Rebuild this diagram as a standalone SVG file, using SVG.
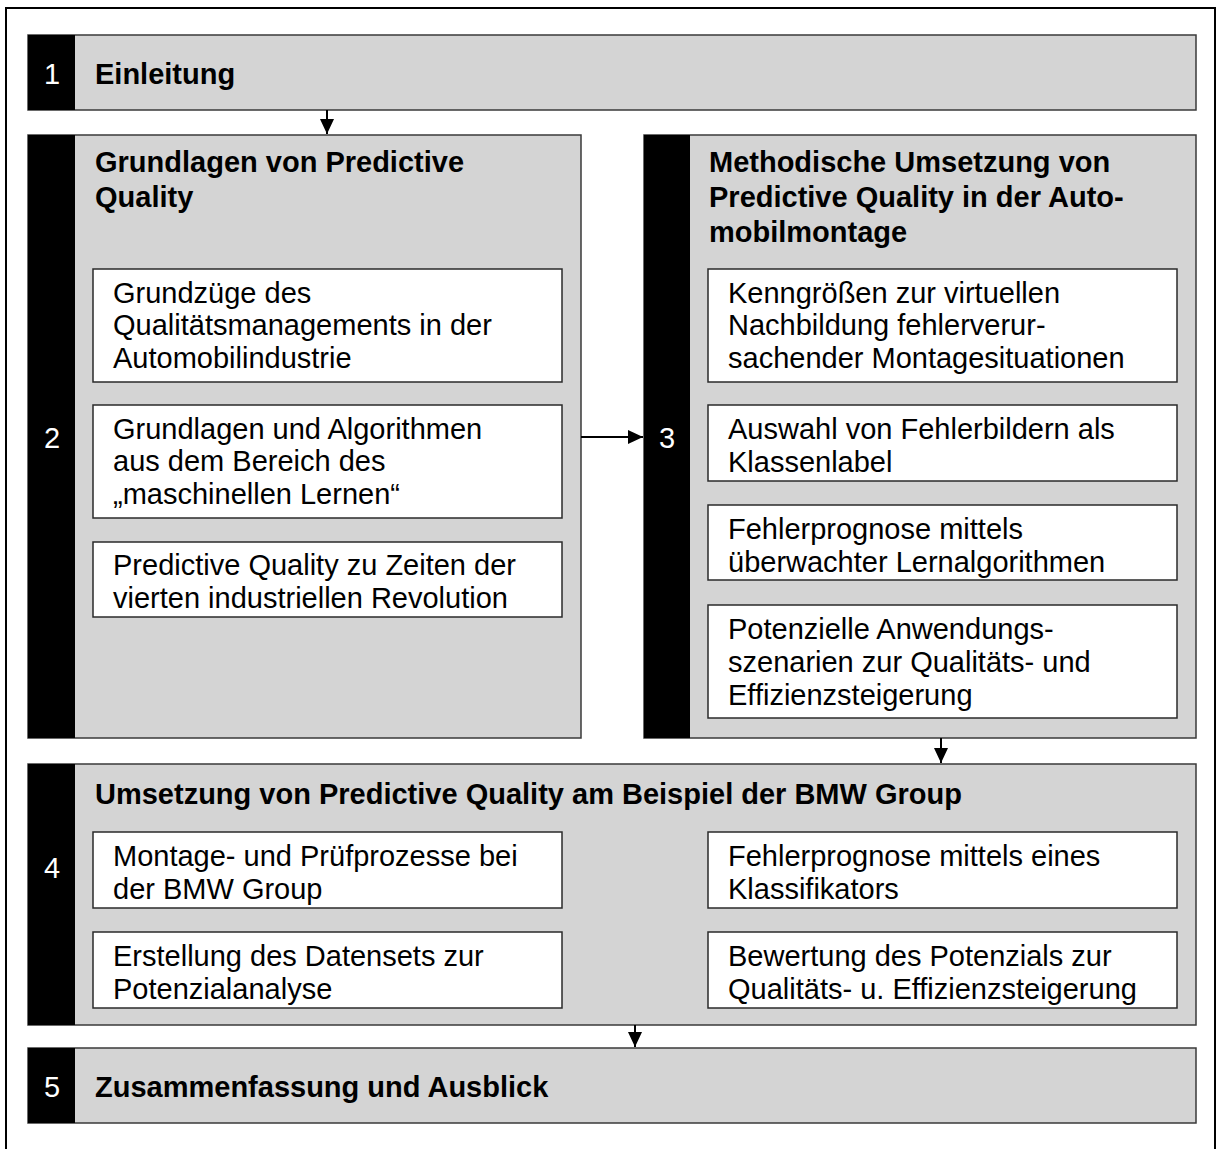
<svg xmlns="http://www.w3.org/2000/svg" width="1219" height="1149" viewBox="0 0 1219 1149">
<defs>
<style>
.frame{fill:#fff;stroke:#000;stroke-width:2}
.sec{fill:#d4d4d4;stroke:#3a3a3a;stroke-width:1.5}
.tab{fill:#000}
.sub{fill:#fff;stroke:#2a2a2a;stroke-width:1.5}
.num{font-family:"Liberation Sans",Arial,sans-serif;font-size:29px;fill:#fff;text-anchor:middle}
.hd{font-family:"Liberation Sans",Arial,sans-serif;font-size:29px;font-weight:bold;fill:#000}
.tx{font-family:"Liberation Sans",Arial,sans-serif;font-size:29px;fill:#000}
.conn{stroke:#000;stroke-width:2;fill:none}
</style>
<marker id="ah" viewBox="0 0 15 14" refX="15" refY="7" markerWidth="15" markerHeight="14" markerUnits="userSpaceOnUse" orient="auto">
<path d="M0,0 L15,7 L0,14 Z" fill="#000"/>
</marker>
</defs>
<rect class="frame" x="6" y="8" width="1209" height="1160"/>

<g id="node1">
<rect class="sec" x="28" y="35" width="1168" height="75"/>
<rect class="tab" x="28" y="35" width="47" height="75"/>
<text class="num" x="52" y="84">1</text>
<text class="hd" x="95" y="84">Einleitung</text>
</g>

<g id="node2">
<rect class="sec" x="28" y="135" width="553" height="603"/>
<rect class="tab" x="28" y="135" width="47" height="603"/>
<text class="num" x="52" y="448">2</text>
<text class="hd" x="95" y="172">Grundlagen von Predictive</text>
<text class="hd" x="95" y="207">Quality</text>
<g id="node2a">
<rect class="sub" x="93" y="269" width="469" height="113"/>
<text class="tx" x="113" y="303">Grundzüge des</text>
<text class="tx" x="113" y="335">Qualitätsmanagements in der</text>
<text class="tx" x="113" y="368">Automobilindustrie</text>
</g>
<g id="node2b">
<rect class="sub" x="93" y="405" width="469" height="113"/>
<text class="tx" x="113" y="439">Grundlagen und Algorithmen</text>
<text class="tx" x="113" y="471">aus dem Bereich des</text>
<text class="tx" x="113" y="504">„maschinellen Lernen“</text>
</g>
<g id="node2c">
<rect class="sub" x="93" y="542" width="469" height="75"/>
<text class="tx" x="113" y="575">Predictive Quality zu Zeiten der</text>
<text class="tx" x="113" y="608">vierten industriellen Revolution</text>
</g>
</g>

<g id="node3">
<rect class="sec" x="644" y="135" width="552" height="603"/>
<rect class="tab" x="644" y="135" width="46" height="603"/>
<text class="num" x="667" y="448">3</text>
<text class="hd" x="709" y="172">Methodische Umsetzung von</text>
<text class="hd" x="709" y="207">Predictive Quality in der Auto-</text>
<text class="hd" x="709" y="242">mobilmontage</text>
<g id="node3a">
<rect class="sub" x="708" y="269" width="469" height="113"/>
<text class="tx" x="728" y="303">Kenngrößen zur virtuellen</text>
<text class="tx" x="728" y="335">Nachbildung fehlerverur-</text>
<text class="tx" x="728" y="368">sachender Montagesituationen</text>
</g>
<g id="node3b">
<rect class="sub" x="708" y="405" width="469" height="76"/>
<text class="tx" x="728" y="439">Auswahl von Fehlerbildern als</text>
<text class="tx" x="728" y="472">Klassenlabel</text>
</g>
<g id="node3c">
<rect class="sub" x="708" y="505" width="469" height="75"/>
<text class="tx" x="728" y="539">Fehlerprognose mittels</text>
<text class="tx" x="728" y="572">überwachter Lernalgorithmen</text>
</g>
<g id="node3d">
<rect class="sub" x="708" y="605" width="469" height="113"/>
<text class="tx" x="728" y="639">Potenzielle Anwendungs-</text>
<text class="tx" x="728" y="672">szenarien zur Qualitäts- und</text>
<text class="tx" x="728" y="705">Effizienzsteigerung</text>
</g>
</g>

<g id="node4">
<rect class="sec" x="28" y="764" width="1168" height="261"/>
<rect class="tab" x="28" y="764" width="47" height="261"/>
<text class="num" x="52" y="878">4</text>
<text class="hd" x="95" y="804">Umsetzung von Predictive Quality am Beispiel der BMW Group</text>
<g id="node4a">
<rect class="sub" x="93" y="832" width="469" height="76"/>
<text class="tx" x="113" y="866">Montage- und Prüfprozesse bei</text>
<text class="tx" x="113" y="899">der BMW Group</text>
</g>
<g id="node4b">
<rect class="sub" x="93" y="932" width="469" height="76"/>
<text class="tx" x="113" y="966">Erstellung des Datensets zur</text>
<text class="tx" x="113" y="999">Potenzialanalyse</text>
</g>
<g id="node4c">
<rect class="sub" x="708" y="832" width="469" height="76"/>
<text class="tx" x="728" y="866">Fehlerprognose mittels eines</text>
<text class="tx" x="728" y="899">Klassifikators</text>
</g>
<g id="node4d">
<rect class="sub" x="708" y="932" width="469" height="76"/>
<text class="tx" x="728" y="966">Bewertung des Potenzials zur</text>
<text class="tx" x="728" y="999">Qualitäts- u. Effizienzsteigerung</text>
</g>
</g>

<g id="node5">
<rect class="sec" x="28" y="1048" width="1168" height="75"/>
<rect class="tab" x="28" y="1048" width="47" height="75"/>
<text class="num" x="52" y="1097">5</text>
<text class="hd" x="95" y="1097">Zusammenfassung und Ausblick</text>
</g>

<g id="connectors">
<line class="conn" x1="327" y1="110" x2="327" y2="134" marker-end="url(#ah)"/>
<line class="conn" x1="581" y1="437" x2="643" y2="437" marker-end="url(#ah)"/>
<line class="conn" x1="941" y1="738" x2="941" y2="763" marker-end="url(#ah)"/>
<line class="conn" x1="635" y1="1025" x2="635" y2="1047" marker-end="url(#ah)"/>
</g>
</svg>
